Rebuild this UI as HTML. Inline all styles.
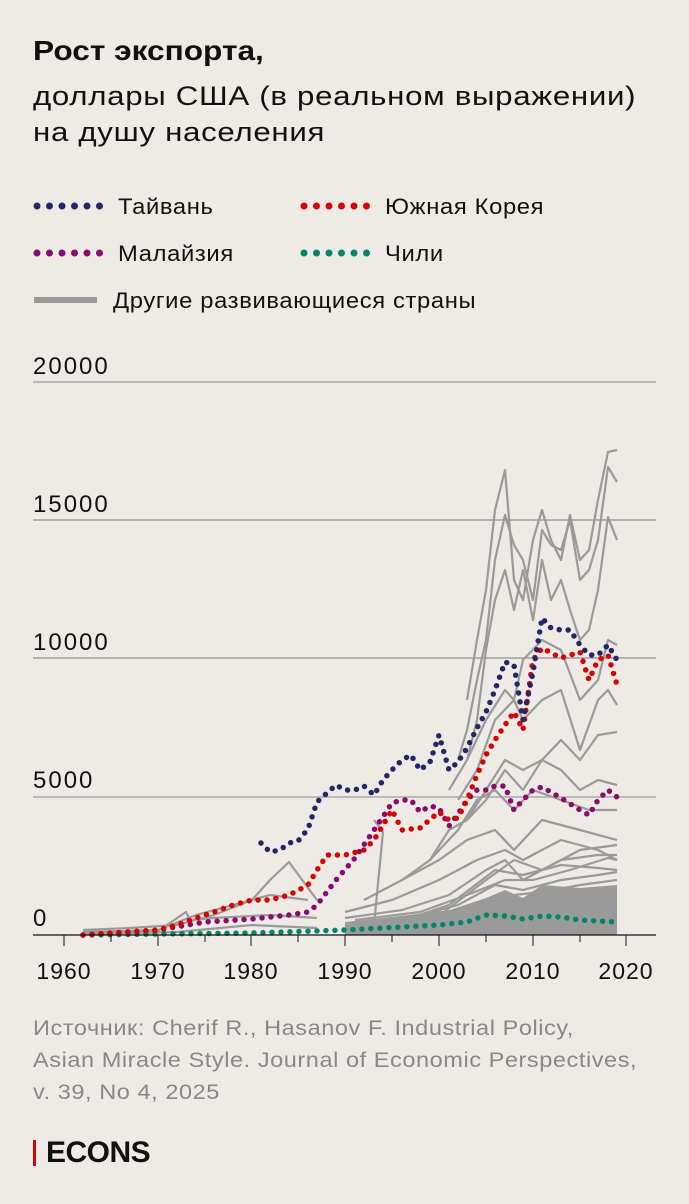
<!DOCTYPE html><html><head><meta charset="utf-8"><style>
body{margin:0;background:#eeebe6;width:689px;height:1204px;overflow:hidden;font-family:"Liberation Sans",sans-serif;color:#111}
.t{position:absolute;left:33px;font-size:27px;line-height:36px;letter-spacing:0.6px;transform-origin:0 0;white-space:nowrap}
.l{position:absolute;font-size:22px;letter-spacing:0.6px;transform-origin:0 0;transform:scaleX(1.08);white-space:nowrap}
</style></head><body>
<div class="t" style="top:33px;font-weight:bold;letter-spacing:0;font-size:28px;transform:scaleX(1.13)">Рост экспорта,</div>
<div class="t" style="top:78px;transform:scaleX(1.157)">доллары США (в реальном выражении)</div>
<div class="t" style="top:114px;transform:scaleX(1.157)">на душу населения</div>
<svg width="689" height="1204" style="position:absolute;left:0;top:0">
<g stroke-linecap="round" stroke-width="7" stroke-dasharray="0 12.5" fill="none">
<line x1="37" y1="206" x2="100" y2="206" stroke="#232766"/>
<line x1="304" y1="206" x2="367" y2="206" stroke="#d90000"/>
<line x1="37" y1="253" x2="100" y2="253" stroke="#8b0a6b"/>
<line x1="304" y1="253" x2="367" y2="253" stroke="#00866a"/>
</g>
<line x1="34" y1="300" x2="97" y2="300" stroke="#999" stroke-width="6"/>
<line x1="33" y1="382" x2="656" y2="382" stroke="#aaa" stroke-width="1.5"/>
<line x1="33" y1="520" x2="656" y2="520" stroke="#777" stroke-width="1"/>
<line x1="33" y1="658" x2="656" y2="658" stroke="#777" stroke-width="1"/>
<line x1="33" y1="797" x2="656" y2="797" stroke="#aaa" stroke-width="1.5"/>
<g font-size="24" fill="#111" letter-spacing="2">
<text x="33" y="374">20000</text><text x="33" y="512">15000</text><text x="33" y="650">10000</text><text x="33" y="788">5000</text><text x="33" y="926">0</text>
</g>
<g stroke="#9a9a9a" stroke-width="2.2" fill="none" stroke-linejoin="round">
<polygon fill="#9a9a9a" stroke="none" points="345,935 345,922 400,916 450,910 486,898 505,890 523,898 542,885 580,888 617,885 617,935"/>
<polyline points="467,700 477,640 486,590 495,510 505,470 514,580 523,600 533,540 542,510 551,540 561,560 570,515 580,560 589,550 598,500 608,452 617,450"/>
<polyline points="458,760 467,730 477,680 486,640 495,560 505,515 514,545 523,560 533,600 542,530 551,545 561,550 570,520 580,580 589,570 598,540 608,467 617,482"/>
<polyline points="467,760 477,720 486,650 495,600 505,570 514,610 523,570 533,620 542,560 551,600 561,580 570,610 580,640 589,630 598,590 608,517 617,540"/>
<polyline points="449,790 467,760 486,720 505,690 514,700 523,660 542,640 561,650 580,700 598,680 608,640 617,645"/>
<polyline points="458,800 477,770 495,720 514,700 523,720 542,700 561,690 580,750 598,700 608,690 617,705"/>
<polyline points="467,820 486,790 505,760 523,770 542,760 561,740 580,760 598,735 617,732"/>
<polyline points="430,860 449,830 467,820 486,800 505,770 523,790 542,760 561,770 580,790 598,780 617,785"/>
<polyline points="402,880 430,860 458,830 477,800 495,790 514,810 533,790 561,800 589,810 617,810"/>
<polyline points="364,900 402,880 439,860 467,840 495,830 514,850 542,820 580,830 617,840"/>
<polyline points="345,912 392,900 439,880 477,860 505,850 523,860 561,840 598,850 617,860"/>
<polyline points="345,918 402,910 449,895 486,870 505,860 523,880 561,860 598,855 617,855"/>
<polyline points="355,920 420,912 467,895 505,880 533,880 570,870 608,858 617,860"/>
<polyline points="345,925 411,918 458,905 495,885 523,890 561,880 598,875 617,872"/>
<polyline points="355,928 430,922 477,908 514,895 542,892 580,885 617,880"/>
<polyline points="364,930 449,925 495,915 523,905 561,900 598,893 617,890"/>
<polyline points="374,930 458,928 505,918 542,908 580,905 617,900"/>
<polyline points="383,926 440,915 486,880 514,860 542,870 580,850 617,845"/>
<polyline points="392,924 449,905 495,870 523,875 561,865 598,868 617,870"/>
<polyline points="374,925 383,832 374,820"/>
<polyline points="83,930 130,928 177,925 214,915 252,900 270,880 289,862 308,888 317,900"/>
<polyline points="83,932 158,930 196,915 233,905 270,895 308,900"/>
<polyline points="90,933 158,931 186,912 190,920 214,918 270,915 317,918"/>
<polyline points="83,934 177,932 252,925 317,928"/>
</g>
<g fill="none" stroke-linecap="round" stroke-width="5.5" stroke-dasharray="0 9" stroke-linejoin="round">
<polyline stroke="#00866a" points="83,935 158,934 252,933 345,930 439,925 467,922 486,915 505,916 523,919 542,916 561,917 580,920 617,922"/>
<polyline stroke="#8b0a6b" points="83,935 158,930 205,922 252,919 289,915 308,912 317,905 336,880 355,858 374,830 392,803 402,800 411,800 420,812 430,806 439,808 449,826 458,814 467,800 477,790 486,790 495,786 505,786 514,810 523,800 533,790 542,787 561,798 580,810 589,815 598,800 608,790 617,797"/>
<polyline stroke="#d90000" points="83,935 111,933 158,930 177,925 196,918 214,912 233,905 252,900 270,900 289,895 308,885 317,870 327,855 345,855 364,850 374,840 392,810 402,830 420,828 439,812 449,820 458,818 467,800 477,775 486,755 495,740 505,725 514,712 523,730 533,660 542,648 561,658 580,652 589,680 598,660 608,655 617,685"/>
<polyline stroke="#232766" points="261,843 270,852 280,850 289,843 298,841 308,829 317,802 327,793 336,785 345,790 355,790 364,786 374,795 383,780 392,770 402,760 411,755 420,770 430,762 439,735 449,770 458,762 467,748 477,728 486,712 495,690 505,662 514,665 523,720 533,672 542,618 551,628 561,630 570,630 580,645 589,655 598,655 608,645 617,660"/>
</g>
<line x1="33" y1="935" x2="656" y2="935" stroke="#111" stroke-width="1.2"/>
<g stroke="#111" stroke-width="1"><line x1="64" y1="935" x2="64" y2="946"/><line x1="111" y1="935" x2="111" y2="942"/><line x1="158" y1="935" x2="158" y2="946"/><line x1="205" y1="935" x2="205" y2="942"/><line x1="251" y1="935" x2="251" y2="946"/><line x1="298" y1="935" x2="298" y2="942"/><line x1="345" y1="935" x2="345" y2="946"/><line x1="392" y1="935" x2="392" y2="942"/><line x1="439" y1="935" x2="439" y2="946"/><line x1="486" y1="935" x2="486" y2="942"/><line x1="533" y1="935" x2="533" y2="946"/><line x1="580" y1="935" x2="580" y2="942"/><line x1="626" y1="935" x2="626" y2="946"/></g>
<g font-size="23" fill="#111" text-anchor="middle" letter-spacing="1"><text x="64" y="979">1960</text><text x="158" y="979">1970</text><text x="251" y="979">1980</text><text x="345" y="979">1990</text><text x="439" y="979">2000</text><text x="533" y="979">2010</text><text x="626" y="979">2020</text></g>
<rect x="33" y="1140" width="3" height="26" fill="#d90000"/>
</svg>
<div class="l" style="left:118px;top:194px">Тайвань</div>
<div class="l" style="left:385px;top:194px">Южная Корея</div>
<div class="l" style="left:118px;top:241px">Малайзия</div>
<div class="l" style="left:385px;top:241px">Чили</div>
<div class="l" style="left:113px;top:288px">Другие развивающиеся страны</div>
<div style="position:absolute;left:33px;top:1013px;font-size:21px;line-height:32px;color:#888;letter-spacing:0.5px;transform-origin:0 0;transform:scaleX(1.12);white-space:nowrap">Источник: Cherif R., Hasanov F. Industrial Policy,<br>Asian Miracle Style. Journal of Economic Perspectives,<br>v. 39, No 4, 2025</div>
<div style="position:absolute;left:46px;top:1136px;font-size:30px;font-weight:bold;letter-spacing:-0.5px">ECONS</div>
</body></html>
